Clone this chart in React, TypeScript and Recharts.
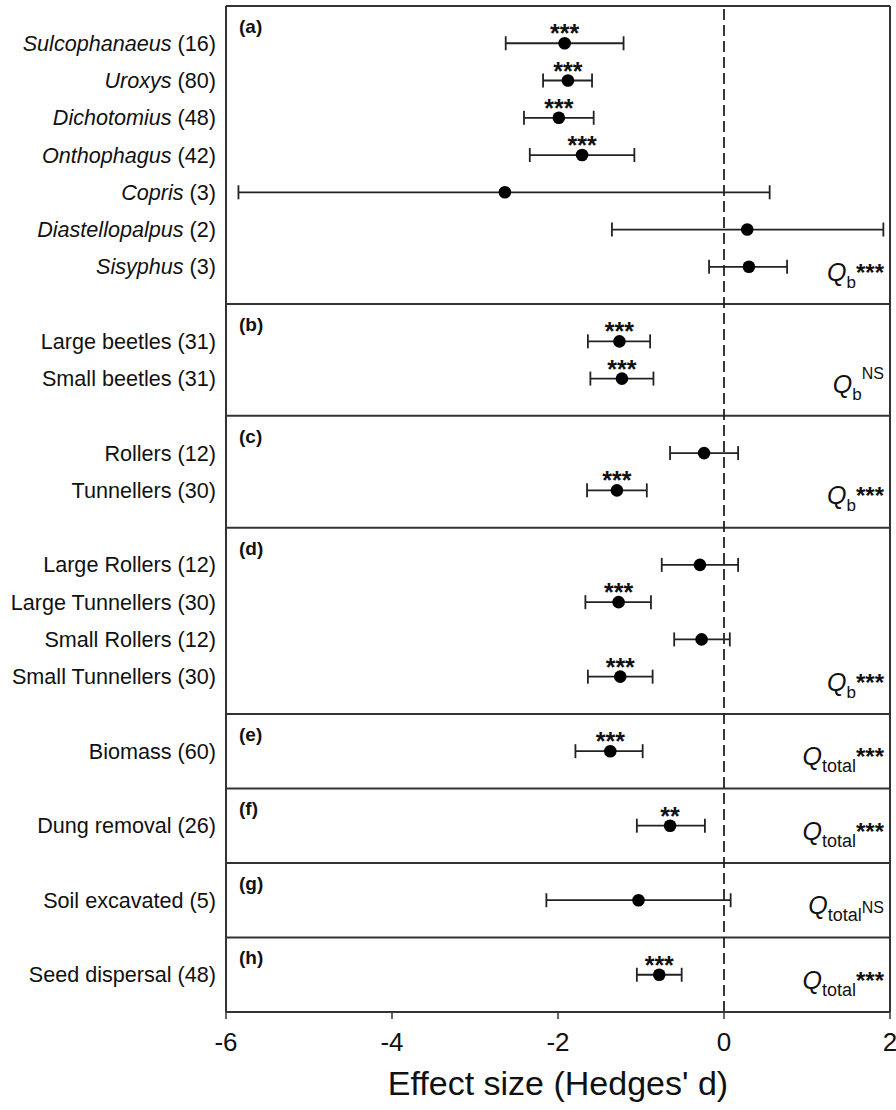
import { ScatterChart, Scatter, XAxis, YAxis, ErrorBar, ReferenceLine, Label } from "recharts";

const FONT = '"Liberation Sans", Arial, Helvetica, sans-serif';

// panels (a)-(h)
const panelLetters = ["(a)", "(b)", "(c)", "(d)", "(e)", "(f)", "(g)", "(h)"];
const panelSizes = [7, 2, 2, 4, 1, 1, 1, 1];
const panelStat = ["b", "b", "b", "b", "total", "total", "total", "total"];
const panelSig = ["***", "NS", "***", "***", "***", "***", "NS", "***"];

// rows, top to bottom
const rowNames = [
  "Sulcophanaeus", "Uroxys", "Dichotomius", "Onthophagus", "Copris", "Diastellopalpus", "Sisyphus",
  "Large beetles", "Small beetles",
  "Rollers", "Tunnellers",
  "Large Rollers", "Large Tunnellers", "Small Rollers", "Small Tunnellers",
  "Biomass", "Dung removal", "Soil excavated", "Seed dispersal",
];
const rowCounts = [16, 80, 48, 42, 3, 2, 3, 31, 31, 12, 30, 12, 30, 12, 30, 60, 26, 5, 48];
const effect = [-1.92, -1.88, -1.99, -1.71, -2.64, 0.28, 0.3, -1.26, -1.23, -0.24, -1.29, -0.29, -1.27, -0.27, -1.25, -1.37, -0.65, -1.03, -0.78];
const ciLow = [-2.63, -2.18, -2.41, -2.34, -5.85, -1.35, -0.18, -1.64, -1.61, -0.65, -1.65, -0.75, -1.67, -0.6, -1.64, -1.79, -1.05, -2.14, -1.05];
const ciHigh = [-1.21, -1.59, -1.57, -1.08, 0.55, 1.92, 0.76, -0.89, -0.85, 0.17, -0.93, 0.17, -0.88, 0.07, -0.86, -0.98, -0.23, 0.08, -0.51];
const rowSig = ["***", "***", "***", "***", "", "", "", "***", "***", "", "***", "", "***", "", "***", "***", "**", "", "***"];

const xTicks = [-6, -4, -2, 0, 2];

// each panel takes its rows plus one empty slot on top
const rows: any[] = [];
const panels: any[] = [];
let slot = 0;
let idx = 0;
panelSizes.forEach((n, p) => {
  panels.push({ top: slot, last: slot + n, label: panelLetters[p], stat: panelStat[p], sig: panelSig[p] });
  for (let j = 1; j <= n; j++) {
    rows.push({
      k: slot + j,
      name: rowNames[idx],
      n: rowCounts[idx],
      d: effect[idx],
      ci: [effect[idx] - ciLow[idx], ciHigh[idx] - effect[idx]],
      sig: rowSig[idx],
      italic: p === 0,
    });
    idx++;
  }
  slot += n + 1;
});
const TOTAL = slot;

const letterData = panels.map((p) => ({ d: -6, k: p.top, label: p.label }));
const statData = panels.map((p) => ({ d: 2, k: p.last, stat: p.stat, sig: p.sig }));

const RowTick = (props: any) => {
  const { x, y, payload } = props;
  const r = rows.find((row) => row.k === payload.value);
  if (!r) return null;
  return (
    <text x={x} y={y} dy="0.35em" textAnchor="end" fontSize={21.6} fontFamily={FONT} fill="#111">
      <tspan fontStyle={r.italic ? "italic" : "normal"}>{r.name}</tspan>
      <tspan>{`\u00a0(${r.n})`}</tspan>
    </text>
  );
};

const PointShape = (props: any) => {
  const { cx, cy, payload } = props;
  return (
    <g>
      <circle cx={cx} cy={cy} r={6.3} fill="#000" />
      {payload.sig ? (
        <text x={cx} y={cy - 1} textAnchor="middle" fontSize={25} fontWeight="bold" fontFamily={FONT} fill="#111">
          {payload.sig}
        </text>
      ) : null}
    </g>
  );
};

const LetterShape = (props: any) => {
  const { cx, cy, payload } = props;
  return (
    <text x={cx + 13} y={cy + 27} fontSize={19} fontWeight="bold" fontFamily={FONT} fill="#111">
      {payload.label}
    </text>
  );
};

const StatShape = (props: any) => {
  const { cx, cy, payload } = props;
  const ns = payload.sig === "NS";
  // NS after "total" sits low, after "b" it is raised
  const supDy = ns ? (payload.stat === "total" ? -8 : -21) : -7;
  return (
    <text x={cx - 6} y={cy + 14} textAnchor="end" fontFamily={FONT} fill="#111">
      <tspan fontStyle="italic" fontSize={25}>Q</tspan>
      <tspan fontSize={payload.stat === "b" ? 17 : 18} dy={7}>{payload.stat}</tspan>
      <tspan fontSize={ns ? 16 : 24} fontWeight={ns ? "normal" : "bold"} dy={supDy}>{payload.sig}</tspan>
    </text>
  );
};

export default function App() {
  return (
    <div style={{ position: "absolute", left: 0, top: 0, background: "#fff" }}>
      <ScatterChart width={896} height={1110} margin={{ top: 6, right: 6, bottom: 0, left: 0 }}>
        <XAxis
          type="number"
          dataKey="d"
          domain={[-6, 2]}
          ticks={xTicks}
          interval={0}
          height={98}
          tickSize={7}
          tickMargin={14}
          tick={{ fontSize: 26, fill: "#111", fontFamily: FONT }}
          axisLine={{ stroke: "#333", strokeWidth: 2 }}
          tickLine={{ stroke: "#333", strokeWidth: 1.5 }}
        >
          <Label
            value="Effect size (Hedges' d)"
            position="insideBottom"
            offset={15}
            style={{ fontSize: 34, fill: "#111", fontFamily: FONT }}
          />
        </XAxis>
        <YAxis
          type="number"
          dataKey="k"
          domain={[0, TOTAL]}
          reversed
          ticks={rows.map((r) => r.k)}
          interval={0}
          width={226}
          tickSize={0}
          tickMargin={10}
          tickLine={false}
          tick={<RowTick />}
          axisLine={{ stroke: "#333", strokeWidth: 2 }}
        />
        {panels.map((p) => (
          <ReferenceLine key={p.label} y={p.top} stroke="#333" strokeWidth={2} />
        ))}
        <ReferenceLine x={2} stroke="#333" strokeWidth={2} />
        <ReferenceLine x={0} stroke="#222" strokeWidth={1.8} strokeDasharray="11 5" />
        <Scatter data={rows} shape={<PointShape />} isAnimationActive={false}>
          <ErrorBar dataKey="ci" direction="x" width={7} stroke="#222" strokeWidth={1.8} />
        </Scatter>
        <Scatter data={letterData} shape={<LetterShape />} isAnimationActive={false} />
        <Scatter data={statData} shape={<StatShape />} isAnimationActive={false} />
      </ScatterChart>
    </div>
  );
}
